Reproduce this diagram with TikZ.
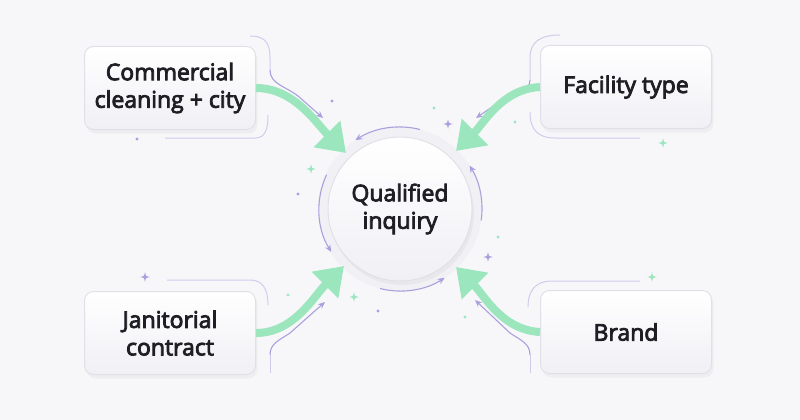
\documentclass[tikz,border=0pt]{standalone}
\usepackage{fontspec}
\setmainfont{Open Sans}
\newfontfamily\semifont{Open Sans}[FakeBold=3.5]
\usetikzlibrary{arrows.meta,shadows,calc}
\definecolor{bg}{RGB}{247,247,250}
\definecolor{ink}{RGB}{30,30,36}
\definecolor{grn}{RGB}{156,230,190}
\definecolor{prp}{RGB}{170,160,222}
\definecolor{edgec}{RGB}{224,224,232}
\definecolor{cardlow}{RGB}{240,240,245}
\definecolor{ringc}{RGB}{241,241,245}
\begin{document}
\begin{tikzpicture}[x=1pt,y=-1pt,
  card/.style={draw=edgec, line width=1pt, rounded corners=9pt,
    minimum width=171pt, minimum height=83pt, inner sep=0pt,
    top color=white, bottom color=cardlow,
    drop shadow={opacity=0.07, shadow xshift=2pt, shadow yshift=-4pt},
    font=\semifont\fontsize{23}{27.5}\selectfont, text=ink, align=center},
  hub/.style={circle, draw=edgec, line width=1pt, minimum size=144pt, inner sep=0pt,
    top color=white, bottom color=cardlow,
    drop shadow={opacity=0.08, shadow xshift=2pt, shadow yshift=-4pt},
    font=\semifont\fontsize{23}{27.5}\selectfont, text=ink, align=center},
  gflow/.style={draw=grn, line width=8pt, -{Triangle[length=27pt,width=36pt]}},
  pflow/.style={draw=prp, line width=1.1pt, -{Stealth[length=7pt,width=6pt]}},
  halo/.style={draw=prp!55, line width=1pt},
  spark/.pic={\fill (0,-#1) .. controls (0.15*#1,-0.15*#1) .. (#1,0) .. controls (0.15*#1,0.15*#1) .. (0,#1) .. controls (-0.15*#1,0.15*#1) .. (-#1,0) .. controls (-0.15*#1,-0.15*#1) .. (0,-#1) -- cycle;}
]
\fill[bg] (0,0) rectangle (800,420);
\useasboundingbox (0,0) rectangle (800,420);

% halo lines around cards
\draw[halo] (250,36) .. controls (266,36) and (270,44) .. (270,58) -- (270,70);
\draw[halo] (165,138) -- (255,138) .. controls (265,138) and (268,130) .. (268,115);
\draw[halo] (560,35) .. controls (540,35) and (530,42) .. (530,58) -- (530,80);
\draw[halo] (530,112) .. controls (530,130) and (538,138) .. (555,138) -- (640,138);
\draw[halo] (167,280) -- (250,280) .. controls (262,280) and (268,288) .. (268,305);
\draw[halo] (270,373) -- (270,355);
\draw[halo] (528,307) .. controls (528,290) and (536,281) .. (552,281) -- (640,281);
\draw[halo] (530,373) -- (530,355);

% purple flow arrows
\draw[pflow] (270,70) .. controls (270,84) and (285,86) .. (298,96) -- (323,118);
\draw[pflow] (530,80) .. controls (530,92) and (515,92) .. (505,98) -- (476,118);
\draw[pflow] (270,355) .. controls (270,343) and (280,340) .. (290,333) -- (325,302);
\draw[pflow] (530,355) .. controls (530,343) and (520,340) .. (510,333) -- (475,300);

% ring around hub
\fill[ringc] (400,209) circle[radius=82];
\draw[pflow] (400,209) ++(-76:82) arc[start angle=-76, end angle=-123, radius=82];
\draw[pflow] (400,209) ++(8:82) arc[start angle=8, end angle=-32, radius=82];
\draw[pflow] (400,209) ++(205:81) arc[start angle=205, end angle=148, radius=81];
\draw[pflow] (400,209) ++(104:82) arc[start angle=104, end angle=57, radius=82];

% nodes
\node[card] (a) at (170,88) {Commercial\\cleaning + city};
\node[card] (b) at (626,87) {Facility type};
\node[card] (c) at (170,333) {Janitorial\\contract};
\node[card] (d) at (626,332) {Brand};
\node[hub] (q) at (400,209) {Qualified\\inquiry};

% arrow tips
\coordinate (ta) at (346,153);
\coordinate (tb) at (456,151);
\coordinate (tc) at (344,266);
\coordinate (td) at (456,267);

% green flows
\draw[gflow] (a.east) .. controls +(38,0) and +(-30,-30) .. (ta);
\draw[gflow] (b.west) .. controls +(-38,2) and +(28,-28) .. (tb);
\draw[gflow] (c.east) .. controls +(38,0) and +(-30,30) .. (tc);
\draw[gflow] (d.west) .. controls +(-38,-2) and +(28,28) .. (td);

% sparkles and dots
\fill[prp] (137,139) circle[radius=1.7];
\fill[prp] (332,101) circle[radius=1.7];
\fill[grn] (434,108) circle[radius=1.7];
\fill[grn] (515,122) circle[radius=1.7];
\fill[prp] (298,194) circle[radius=1.7];
\fill[grn] (498,237) circle[radius=1.7];
\fill[prp] (378,311) circle[radius=1.7];
\fill[grn] (465,317) circle[radius=1.7];
\fill[grn] (288,295) circle[radius=1.7];
\pic[prp] at (448,124) {spark=5};
\pic[grn] at (663,143) {spark=5};
\pic[grn] at (311,169) {spark=5};
\pic[prp] at (488,257) {spark=5};
\pic[grn] at (354,297) {spark=5};
\pic[prp] at (145,277) {spark=5};
\pic[grn] at (652,277) {spark=5};
\end{tikzpicture}
\end{document}
